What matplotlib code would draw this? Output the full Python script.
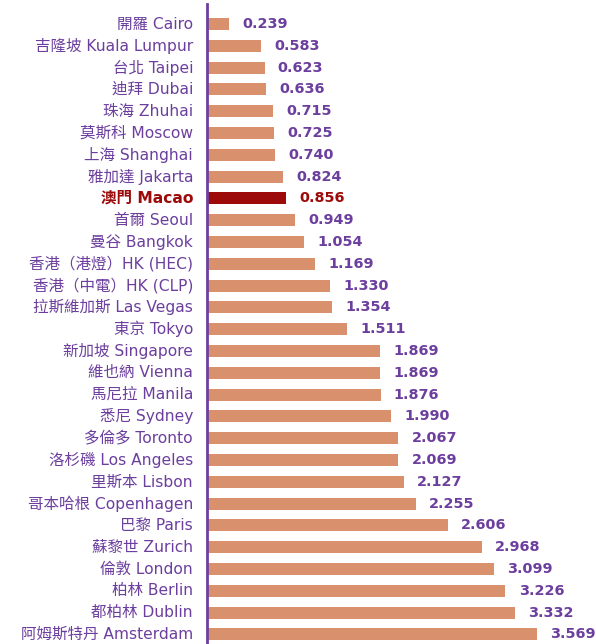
import matplotlib
matplotlib.use("Agg")
import matplotlib.pyplot as plt

cities_zh = ["開羅", "吉隆坡", "台北", "迪拜", "珠海", "莫斯科", "上海", "雅加達", "澳門", "首爾",
             "曼谷", "香港（港燈）", "香港（中電）", "拉斯維加斯", "東京", "新加坡", "維也納", "馬尼拉",
             "悉尼", "多倫多", "洛杉磯", "里斯本", "哥本哈根", "巴黎", "蘇黎世", "倫敦", "柏林", "都柏林",
             "阿姆斯特丹"]
cities_en = ["Cairo", "Kuala Lumpur", "Taipei", "Dubai", "Zhuhai", "Moscow", "Shanghai", "Jakarta",
             "Macao", "Seoul", "Bangkok", "HK (HEC)", "HK (CLP)", "Las Vegas", "Tokyo", "Singapore",
             "Vienna", "Manila", "Sydney", "Toronto", "Los Angeles", "Lisbon", "Copenhagen", "Paris",
             "Zurich", "London", "Berlin", "Dublin", "Amsterdam"]
values = [0.239, 0.583, 0.623, 0.636, 0.715, 0.725, 0.740, 0.824, 0.856, 0.949, 1.054, 1.169, 1.330,
          1.354, 1.511, 1.869, 1.869, 1.876, 1.990, 2.067, 2.069, 2.127, 2.255, 2.606, 2.968, 3.099,
          3.226, 3.332, 3.569]
highlight = "Macao"

purple = "#6c3f9e"
bar_col = "#d9906c"
hl_col = "#9c0a0a"
fam = ["DejaVu Sans", "Noto Sans CJK TC"]

W, H = 596, 644
fig = plt.figure(figsize=(W / 100, H / 100), dpi=100)
x0 = 207
ax = fig.add_axes([x0 / W, 0, (W - x0) / W, 1 - 4 / H])

n = len(values)
ys = list(range(n))
colors = [hl_col if e == highlight else bar_col for e in cities_en]
ax.barh(ys, values, height=0.55, color=colors, left=0)

px_per_unit = 92.5
row = 21.8
top_c = 24
ax.set_xlim(0, (W - x0) / px_per_unit)
ax.set_ylim((H - top_c) / row, (4 - top_c) / row)
for s in ["top", "right", "bottom"]:
    ax.spines[s].set_visible(False)
ax.spines["left"].set_color(purple)
ax.spines["left"].set_linewidth(2)
ax.set_xticks([])
ax.set_yticks([])

for y, zh, en, v in zip(ys, cities_zh, cities_en, values):
    hl = en == highlight
    c = hl_col if hl else purple
    sep = "" if zh.endswith("）") else " "
    ax.annotate(f"{zh}{sep}{en}", xy=(0, y), xycoords="data", xytext=(-10, 0),
                textcoords="offset points", ha="right", va="center", fontsize=11.2,
                color=c, family=fam, fontweight="bold" if hl else "medium")
    ax.annotate(f"{v:.3f}", xy=(v, y), xytext=(9.5, 0), textcoords="offset points",
                ha="left", va="center", fontsize=10.4, color=c, family=fam, fontweight="bold")

fig.savefig("out.png", dpi=100, facecolor="white")
